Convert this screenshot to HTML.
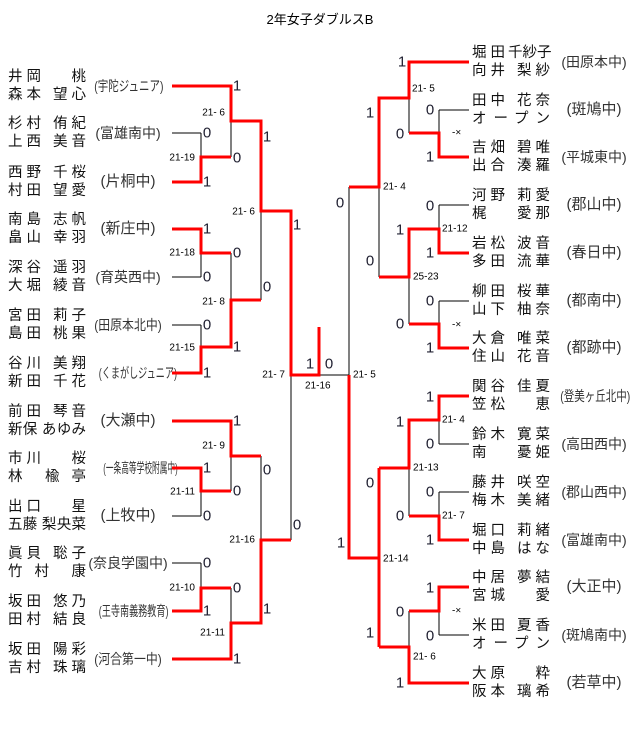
<!DOCTYPE html>
<html><head><meta charset="utf-8"><style>
html,body{margin:0;padding:0;background:#fff;}
body{width:640px;height:749px;position:relative;overflow:hidden;font-family:"Liberation Sans","Noto Sans CJK JP",sans-serif;}
.t{position:absolute;font-size:14.5px;line-height:18px;color:#111;}
.t div{width:78px;display:flex;justify-content:space-between;white-space:nowrap;height:18px;}
.t span{display:block;width:33px;text-align:justify;text-align-last:justify;}
.t span.w{width:78px;}
.s{position:absolute;font-size:14px;color:#333;white-space:nowrap;transform-origin:center center;line-height:16px;text-align:center;width:90px;}
svg{position:absolute;left:0;top:0;}
svg text{font-family:"Liberation Sans",sans-serif;}
.n{font-size:15px;fill:#223;text-anchor:middle;dominant-baseline:central;}
.l{font-size:10px;fill:#000;dominant-baseline:central;}
.lr{font-size:10px;fill:#000;dominant-baseline:central;text-anchor:end;}
</style></head><body>
<div style="position:absolute;left:0;width:640px;top:9px;text-align:center;font-size:13px;">2年女子ダブルスB</div>

<div class="t" style="left:8px;top:68px"><div><span>井岡</span><span>　桃</span></div><div><span>森本</span><span>望心</span></div></div>
<div class="t" style="left:8px;top:115px"><div><span>杉村</span><span>侑紀</span></div><div><span>上西</span><span>美音</span></div></div>
<div class="t" style="left:8px;top:164px"><div><span>西野</span><span>千桜</span></div><div><span>村田</span><span>望愛</span></div></div>
<div class="t" style="left:8px;top:211px"><div><span>南島</span><span>志帆</span></div><div><span>畠山</span><span>幸羽</span></div></div>
<div class="t" style="left:8px;top:259px"><div><span>深谷</span><span>遥羽</span></div><div><span>大堀</span><span>綾音</span></div></div>
<div class="t" style="left:8px;top:307px"><div><span>宮田</span><span>莉子</span></div><div><span>島田</span><span>桃果</span></div></div>
<div class="t" style="left:8px;top:355px"><div><span>谷川</span><span>美翔</span></div><div><span>新田</span><span>千花</span></div></div>
<div class="t" style="left:8px;top:403px"><div><span>前田</span><span>琴音</span></div><div><span class="w">新保 あゆみ</span></div></div>
<div class="t" style="left:8px;top:450px"><div><span>市川</span><span>　桜</span></div><div><span class="w">林　楡 亭</span></div></div>
<div class="t" style="left:8px;top:498px"><div><span>出口</span><span>　星</span></div><div><span class="w">五藤 梨央菜</span></div></div>
<div class="t" style="left:8px;top:545px"><div><span>眞貝</span><span>聡子</span></div><div><span class="w">竹 村　康</span></div></div>
<div class="t" style="left:8px;top:593px"><div><span>坂田</span><span>悠乃</span></div><div><span>田村</span><span>結良</span></div></div>
<div class="t" style="left:8px;top:641px"><div><span>坂田</span><span>陽彩</span></div><div><span>吉村</span><span>珠璃</span></div></div>

<div class="s" style="left:83px;top:78px;transform:scaleX(0.75)">(宇陀ジュニア)</div>
<div class="s" style="left:83px;top:125px">(富雄南中)</div>
<div class="s" style="left:83px;top:174px;font-size:15px">(片桐中)</div>
<div class="s" style="left:83px;top:221px;font-size:15px">(新庄中)</div>
<div class="s" style="left:83px;top:269px">(育英西中)</div>
<div class="s" style="left:83px;top:317px;transform:scaleX(0.85)">(田原本北中)</div>
<div class="s" style="left:83px;top:365px;transform:scaleX(0.65)">(くまがしジュニア)</div>
<div class="s" style="left:83px;top:413px;font-size:15px">(大瀬中)</div>
<div class="s" style="left:83px;top:460px;transform:scaleX(0.55)">(一条高等学校附属中)</div>
<div class="s" style="left:83px;top:508px;font-size:15px">(上牧中)</div>
<div class="s" style="left:83px;top:555px">(奈良学園中)</div>
<div class="s" style="left:83px;top:603px;transform:scaleX(0.65)">(王寺南義務教育)</div>
<div class="s" style="left:83px;top:651px;transform:scaleX(0.85)">(河合第一中)</div>

<div class="t" style="left:472px;top:44px"><div><span>堀田</span><span style="width:42px">千紗子</span></div><div><span>向井</span><span>梨紗</span></div></div>
<div class="t" style="left:472px;top:92px"><div><span>田中</span><span>花奈</span></div><div><span class="w">オープン</span></div></div>
<div class="t" style="left:472px;top:139px"><div><span>吉畑</span><span>碧唯</span></div><div><span>出合</span><span>湊羅</span></div></div>
<div class="t" style="left:472px;top:187px"><div><span>河野</span><span>莉愛</span></div><div><span>梶　</span><span>愛那</span></div></div>
<div class="t" style="left:472px;top:235px"><div><span>岩松</span><span>波音</span></div><div><span>多田</span><span>流華</span></div></div>
<div class="t" style="left:472px;top:283px"><div><span>柳田</span><span>桜華</span></div><div><span>山下</span><span>柚奈</span></div></div>
<div class="t" style="left:472px;top:330px"><div><span>大倉</span><span>唯菜</span></div><div><span>住山</span><span>花音</span></div></div>
<div class="t" style="left:472px;top:378px"><div><span>関谷</span><span>佳夏</span></div><div><span>笠松</span><span>　恵</span></div></div>
<div class="t" style="left:472px;top:426px"><div><span>鈴木</span><span>寛菜</span></div><div><span>南　</span><span>憂姫</span></div></div>
<div class="t" style="left:472px;top:474px"><div><span>藤井</span><span>咲空</span></div><div><span>梅木</span><span>美緒</span></div></div>
<div class="t" style="left:472px;top:522px"><div><span>堀口</span><span>莉緒</span></div><div><span>中島</span><span>はな</span></div></div>
<div class="t" style="left:472px;top:569px"><div><span>中居</span><span>夢結</span></div><div><span>宮城</span><span>　愛</span></div></div>
<div class="t" style="left:472px;top:617px"><div><span>米田</span><span>夏香</span></div><div><span class="w">オープン</span></div></div>
<div class="t" style="left:472px;top:665px"><div><span>大原</span><span>　粋</span></div><div><span>阪本</span><span>璃希</span></div></div>

<div class="s" style="left:549px;top:54px">(田原本中)</div>
<div class="s" style="left:549px;top:102px;font-size:15px">(斑鳩中)</div>
<div class="s" style="left:549px;top:149px">(平城東中)</div>
<div class="s" style="left:549px;top:197px;font-size:15px">(郡山中)</div>
<div class="s" style="left:549px;top:245px;font-size:15px">(春日中)</div>
<div class="s" style="left:549px;top:293px;font-size:15px">(都南中)</div>
<div class="s" style="left:549px;top:340px;font-size:15px">(都跡中)</div>
<div class="s" style="left:549px;top:388px;transform:scaleX(0.75)">(登美ヶ丘北中)</div>
<div class="s" style="left:549px;top:436px">(高田西中)</div>
<div class="s" style="left:549px;top:484px">(郡山西中)</div>
<div class="s" style="left:549px;top:532px">(富雄南中)</div>
<div class="s" style="left:549px;top:579px;font-size:15px">(大正中)</div>
<div class="s" style="left:549px;top:627px">(斑鳩南中)</div>
<div class="s" style="left:549px;top:675px;font-size:15px">(若草中)</div>

<svg width="640" height="749" viewBox="0 0 640 749">
<g stroke="#000" stroke-width="1" fill="none">
<path d="M172 133H201M172 277H201M172 325H201M172 516H201M172 563H201"/>
<path d="M201 133V182M201 229V277M201 325V373M201 468V516M201 563V611"/>
<path d="M231 86V157M231 253V347M231 421V491M231 588V659"/>
<path d="M261 121V300M261 456V623M291 211V540"/>
<path d="M319 375H349M349 187V375"/>
<path d="M379 98V277M409 62V133M409 229V324M409 420V516M409 611V683"/>
<path d="M439 110V157M439 205V253M439 301V348M439 396V444M439 492V540M439 587V635"/>
<path d="M439 110H469M439 205H469M439 301H469M439 444H469M439 492H469M439 635H469"/>
</g>
<g stroke="#f00" stroke-width="3" fill="none" stroke-linejoin="miter">
<path d="M172 86H231V121H261V211H291V375H319V327"/>
<path d="M172 182H201V157H231"/>
<path d="M172 229H201V253H231"/>
<path d="M172 373H201V347H231V300H261"/>
<path d="M172 421H231V456H261"/>
<path d="M172 468H201V491H231"/>
<path d="M172 611H201V588H231"/>
<path d="M172 659H231V623H261V540H291"/>
<path d="M349 375V558H379"/>
<path d="M379 468V647"/>
<path d="M379 468H409V420H439V396H469"/>
<path d="M379 647H409V683H469"/>
<path d="M349 187H379V98H409V62H469"/>
<path d="M409 133H439V157H469"/>
<path d="M379 277H409V229H439V253H469"/>
<path d="M409 324H439V348H469"/>
<path d="M409 516H439V540H469"/>
<path d="M409 611H439V587H469"/>
</g>
<g class="n">
<text x="237" y="86">1</text><text x="207" y="133">0</text><text x="207" y="182">1</text><text x="237" y="158">0</text>
<text x="267" y="137">1</text><text x="267" y="287">0</text><text x="297" y="225">1</text>
<text x="207" y="229">1</text><text x="207" y="277">0</text><text x="237" y="253">0</text>
<text x="207" y="325">0</text><text x="207" y="373">1</text><text x="237" y="347">1</text>
<text x="237" y="421">1</text><text x="207" y="468">1</text><text x="207" y="516">0</text><text x="237" y="491">0</text>
<text x="267" y="470">0</text><text x="297" y="525">0</text>
<text x="207" y="563">0</text><text x="207" y="611">1</text><text x="237" y="588">0</text>
<text x="267" y="609">1</text><text x="237" y="659">1</text>
<text x="310" y="364">1</text><text x="329" y="364">0</text>
<text x="402" y="62">1</text><text x="430" y="110">0</text><text x="400" y="134">0</text><text x="430" y="157">1</text>
<text x="370" y="113">1</text><text x="340" y="203">0</text>
<text x="430" y="206">0</text><text x="400" y="230">1</text><text x="430" y="253">1</text><text x="370" y="261">0</text>
<text x="430" y="301">0</text><text x="400" y="324">0</text><text x="430" y="348">1</text>
<text x="430" y="397">1</text><text x="400" y="422">1</text><text x="430" y="444">0</text><text x="370" y="483">0</text>
<text x="430" y="492">0</text><text x="400" y="516">0</text><text x="430" y="540">1</text><text x="341" y="543">1</text>
<text x="430" y="588">1</text><text x="400" y="612">0</text><text x="430" y="636">0</text><text x="370" y="633">1</text>
<text x="400" y="683">1</text>
</g>
<g>
<text class="lr" x="225" y="113">21- 6</text><text class="lr" x="195" y="158">21-19</text>
<text class="lr" x="255" y="212">21- 6</text><text class="lr" x="195" y="253">21-18</text>
<text class="lr" x="225" y="302">21- 8</text><text class="lr" x="195" y="348">21-15</text>
<text class="lr" x="285" y="375">21- 7</text>
<text class="lr" x="225" y="446">21- 9</text><text class="lr" x="195" y="492">21-11</text>
<text class="lr" x="255" y="540">21-16</text><text class="lr" x="195" y="588">21-10</text>
<text class="lr" x="225" y="633">21-11</text>
<text class="l" x="305" y="386">21-16</text><text class="l" x="353" y="375">21- 5</text>
<text class="l" x="412" y="89">21- 5</text><text class="l" x="383" y="187">21- 4</text>
<text class="l" x="442" y="229">21-12</text><text class="l" x="413" y="277">25-23</text>
<text class="l" x="442" y="420">21- 4</text><text class="l" x="413" y="468">21-13</text>
<text class="l" x="442" y="516">21- 7</text><text class="l" x="383" y="559">21-14</text>
<text class="l" x="413" y="657">21- 6</text>
<text class="l" x="452" y="133">-×</text><text class="l" x="452" y="325">-×</text><text class="l" x="452" y="611">-×</text>
</g>
</svg>
</body></html>
